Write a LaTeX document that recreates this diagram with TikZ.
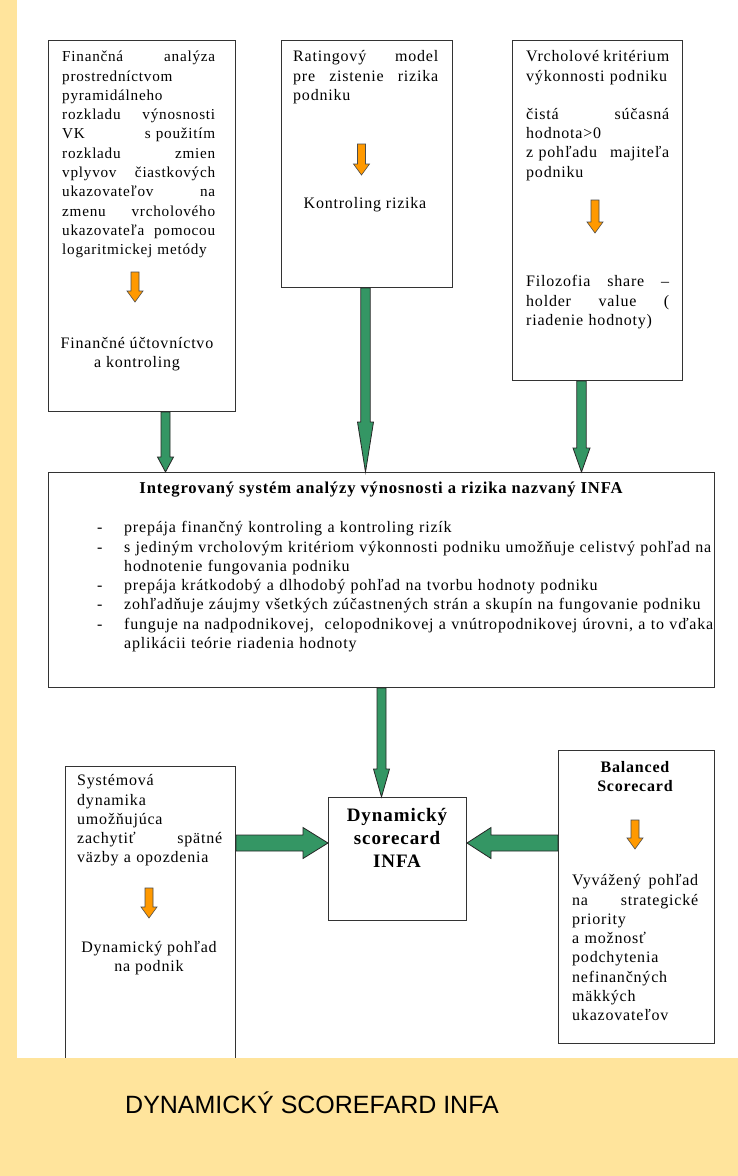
\documentclass[tikz,border=0pt]{standalone}
\usepackage{fontspec}
\setmainfont{Liberation Serif}[LetterSpace=5]
\newfontfamily\capfont{Liberation Sans}
\usetikzlibrary{calc}
\definecolor{bgyellow}{RGB}{255,228,156}
\definecolor{agreen}{RGB}{52,150,100}
\definecolor{aorange}{RGB}{255,153,0}
\tikzset{
  box/.style={draw=black!80, line width=1pt, fill=white, inner sep=0pt, anchor=north west},
  txt/.style={inner sep=0pt, anchor=north west, align=left, font=\fontsize{16}{19.3}\selectfont},
  ctxt/.style={inner sep=0pt, align=center, font=\fontsize{16}{19}\selectfont},
  blockarrow/.style n args={3}{to path={
    ($(\tikztotarget)!#3!(\tikztostart)$) coordinate (bahead)
    ($(\tikztostart)!#1!90:(\tikztotarget)$) -- ($(bahead)!#1!90:(\tikztotarget)$)
    -- ($(bahead)!#2!90:(\tikztotarget)$) -- (\tikztotarget)
    -- ($(bahead)!#2!-90:(\tikztotarget)$) -- ($(bahead)!#1!-90:(\tikztotarget)$)
    -- ($(\tikztostart)!#1!-90:(\tikztotarget)$) -- cycle}},
  garrow/.style n args={3}{draw=black!85, line width=0.8pt, fill=agreen, blockarrow={#1}{#2}{#3}},
  oarrow/.style={draw=black!70, line width=0.6pt, fill=aorange, blockarrow={4pt}{8pt}{11pt}},
}
\begin{document}
\begin{tikzpicture}[x=1pt,y=-1pt]
\useasboundingbox (0,0) rectangle (738,1176);
\fill[bgyellow] (0,0) rectangle (738,1176);
\fill[white] (17,0) rectangle (738,1058);

% boxes
\node[box, minimum width=187pt, minimum height=371pt] (b1) at (48,40) {};
\node[box, minimum width=171pt, minimum height=247pt] (b2) at (281,40) {};
\node[box, minimum width=170pt, minimum height=340pt] (b3) at (512,40) {};
\node[box, minimum width=666pt, minimum height=215pt] (mid) at (48,472) {};
\node[box, minimum width=138pt, minimum height=123pt] (dyn) at (328,797) {};
\node[box, minimum width=170pt, minimum height=310pt] (lbox) at (65,766) {};
\node[box, minimum width=156pt, minimum height=293pt] (rbox) at (558,750) {};

% green connectors
\coordinate (g1s) at ([xshift=23.5pt]b1.south);
\coordinate (g1e) at (g1s |- mid.north);
\coordinate (g2s) at ([xshift=-1.5pt]b2.south);
\coordinate (g2e) at (g2s |- mid.north);
\coordinate (g3s) at ([xshift=-16pt]b3.south);
\coordinate (g3e) at (g3s |- mid.north);
\coordinate (g4s) at (mid.south);
\coordinate (g4e) at (g4s |- dyn.north);
\coordinate (hy) at (0,843);
\coordinate (g5s) at (lbox.east |- hy);
\coordinate (g5e) at (dyn.west |- hy);
\coordinate (g6s) at (rbox.west |- hy);
\coordinate (g6e) at (dyn.east |- hy);
\draw[garrow={4.5pt}{8pt}{15pt}] (g1s) to (g1e);
\draw[garrow={4.7pt}{8pt}{50pt}] (g2s) to (g2e);
\draw[garrow={4.7pt}{8.5pt}{24pt}] (g3s) to (g3e);
\draw[garrow={4.5pt}{8pt}{28pt}] (g4s) to (g4e);
\draw[garrow={8pt}{15.5pt}{25pt}] (g5s) to (g5e);
\draw[garrow={8pt}{15.5pt}{24pt}] (g6s) to (g6e);

% orange arrows
\coordinate (o1s) at (135,272); \coordinate (o1e) at (135,302);
\coordinate (o2s) at (361.5,144); \coordinate (o2e) at (361.5,175);
\coordinate (o3s) at (595,200); \coordinate (o3e) at (595,233);
\coordinate (o4s) at (149,888); \coordinate (o4e) at (149,918);
\coordinate (o5s) at (635,820); \coordinate (o5e) at (635,849);
\draw[oarrow] (o1s) to (o1e);
\draw[oarrow] (o2s) to (o2e);
\draw[oarrow] (o3s) to (o3e);
\draw[oarrow] (o4s) to (o4e);
\draw[oarrow] (o5s) to (o5e);

% texts box 1
\node[txt, text width=153pt, font=\fontsize{15.2}{19.3}\selectfont] (t1a) at (62,48) {\strut Finančná\hfill analýza\\
prostredníctvom\\
pyramidálneho\\
rozkladu\hfill výnosnosti\\
VK\hfill s použitím\\
rozkladu\hfill zmien\\
vplyvov\hfill čiastkových\\
ukazovateľov\hfill na\\
zmenu\hfill vrcholového\\
ukazovateľa\hfill pomocou\\
logaritmickej metódy};
\node[ctxt] (t1b) at (137,354) {Finančné účtovníctvo\\a kontroling};

% box 2
\node[txt, text width=145pt] (t2a) at (293,48) {\strut Ratingový\hfill model\\
pre\hfill zistenie\hfill rizika\\
podniku};
\node[ctxt] (t2b) at (365,205) {Kontroling rizika};

% box 3
\node[txt, text width=143pt] (t3a) at (526,48) {\strut Vrcholové\hfill kritérium\\
výkonnosti podniku\\[19pt]
čistá\hfill súčasná\\
hodnota>0\\
z pohľadu\hfill majiteľa\\
podniku};
\node[txt, text width=143pt] (t3b) at (526,273) {\strut Filozofia\hfill share\hfill –\\
holder\hfill value\hfill (\\
riadenie hodnoty)};

% middle
\node[ctxt, font=\fontsize{16.6}{19}\selectfont\bfseries] (tmt) at (381,490) {Integrovaný systém analýzy výnosnosti a rizika nazvaný INFA};
\node[txt, text width=640pt] (tmb) at (97,519) {\strut\makebox[27pt][l]{-}prepája finančný kontroling a kontroling rizík\\
\makebox[27pt][l]{-}s jediným vrcholovým kritériom výkonnosti podniku umožňuje celistvý pohľad na\\
\hspace*{27pt}hodnotenie fungovania podniku\\
\makebox[27pt][l]{-}prepája krátkodobý a dlhodobý pohľad na tvorbu hodnoty podniku\\
\makebox[27pt][l]{-}zohľadňuje záujmy všetkých zúčastnených strán a skupín na fungovanie podniku\\
\makebox[27pt][l]{-}funguje na nadpodnikovej,\ \ celopodnikovej a vnútropodnikovej úrovni, a to vďaka\\
\hspace*{27pt}aplikácii teórie riadenia hodnoty};

% dynamic scorecard
\node[ctxt, font=\fontsize{19}{23}\selectfont\bfseries] (tdyn) at (397,838) {Dynamický\\scorecard\\INFA};

% left bottom
\node[txt, text width=145pt] (tla) at (77,772) {\strut Systémová\\
dynamika\\
umožňujúca\\
zachytiť\hfill spätné\\
väzby a opozdenia};
\node[ctxt] (tlb) at (149,958) {Dynamický pohľad\\na podnik};

% right bottom
\node[ctxt, font=\fontsize{16}{19}\selectfont\bfseries] (trt) at (635,777) {Balanced\\Scorecard};
\node[txt, text width=126pt] (trb) at (572,872) {\strut Vyvážený\hfill pohľad\\
na\hfill strategické\\
priority\\
a možnosť\\
podchytenia\\
nefinančných\\
mäkkých\\
ukazovateľov};

% bottom strip and caption
\fill[bgyellow] (0,1058) rectangle (738,1176);
\node[inner sep=0pt, anchor=west, font=\capfont\fontsize{25}{30}\selectfont] (cap) at (125,1103) {DYNAMICKÝ SCOREFARD INFA};
\end{tikzpicture}
\end{document}
